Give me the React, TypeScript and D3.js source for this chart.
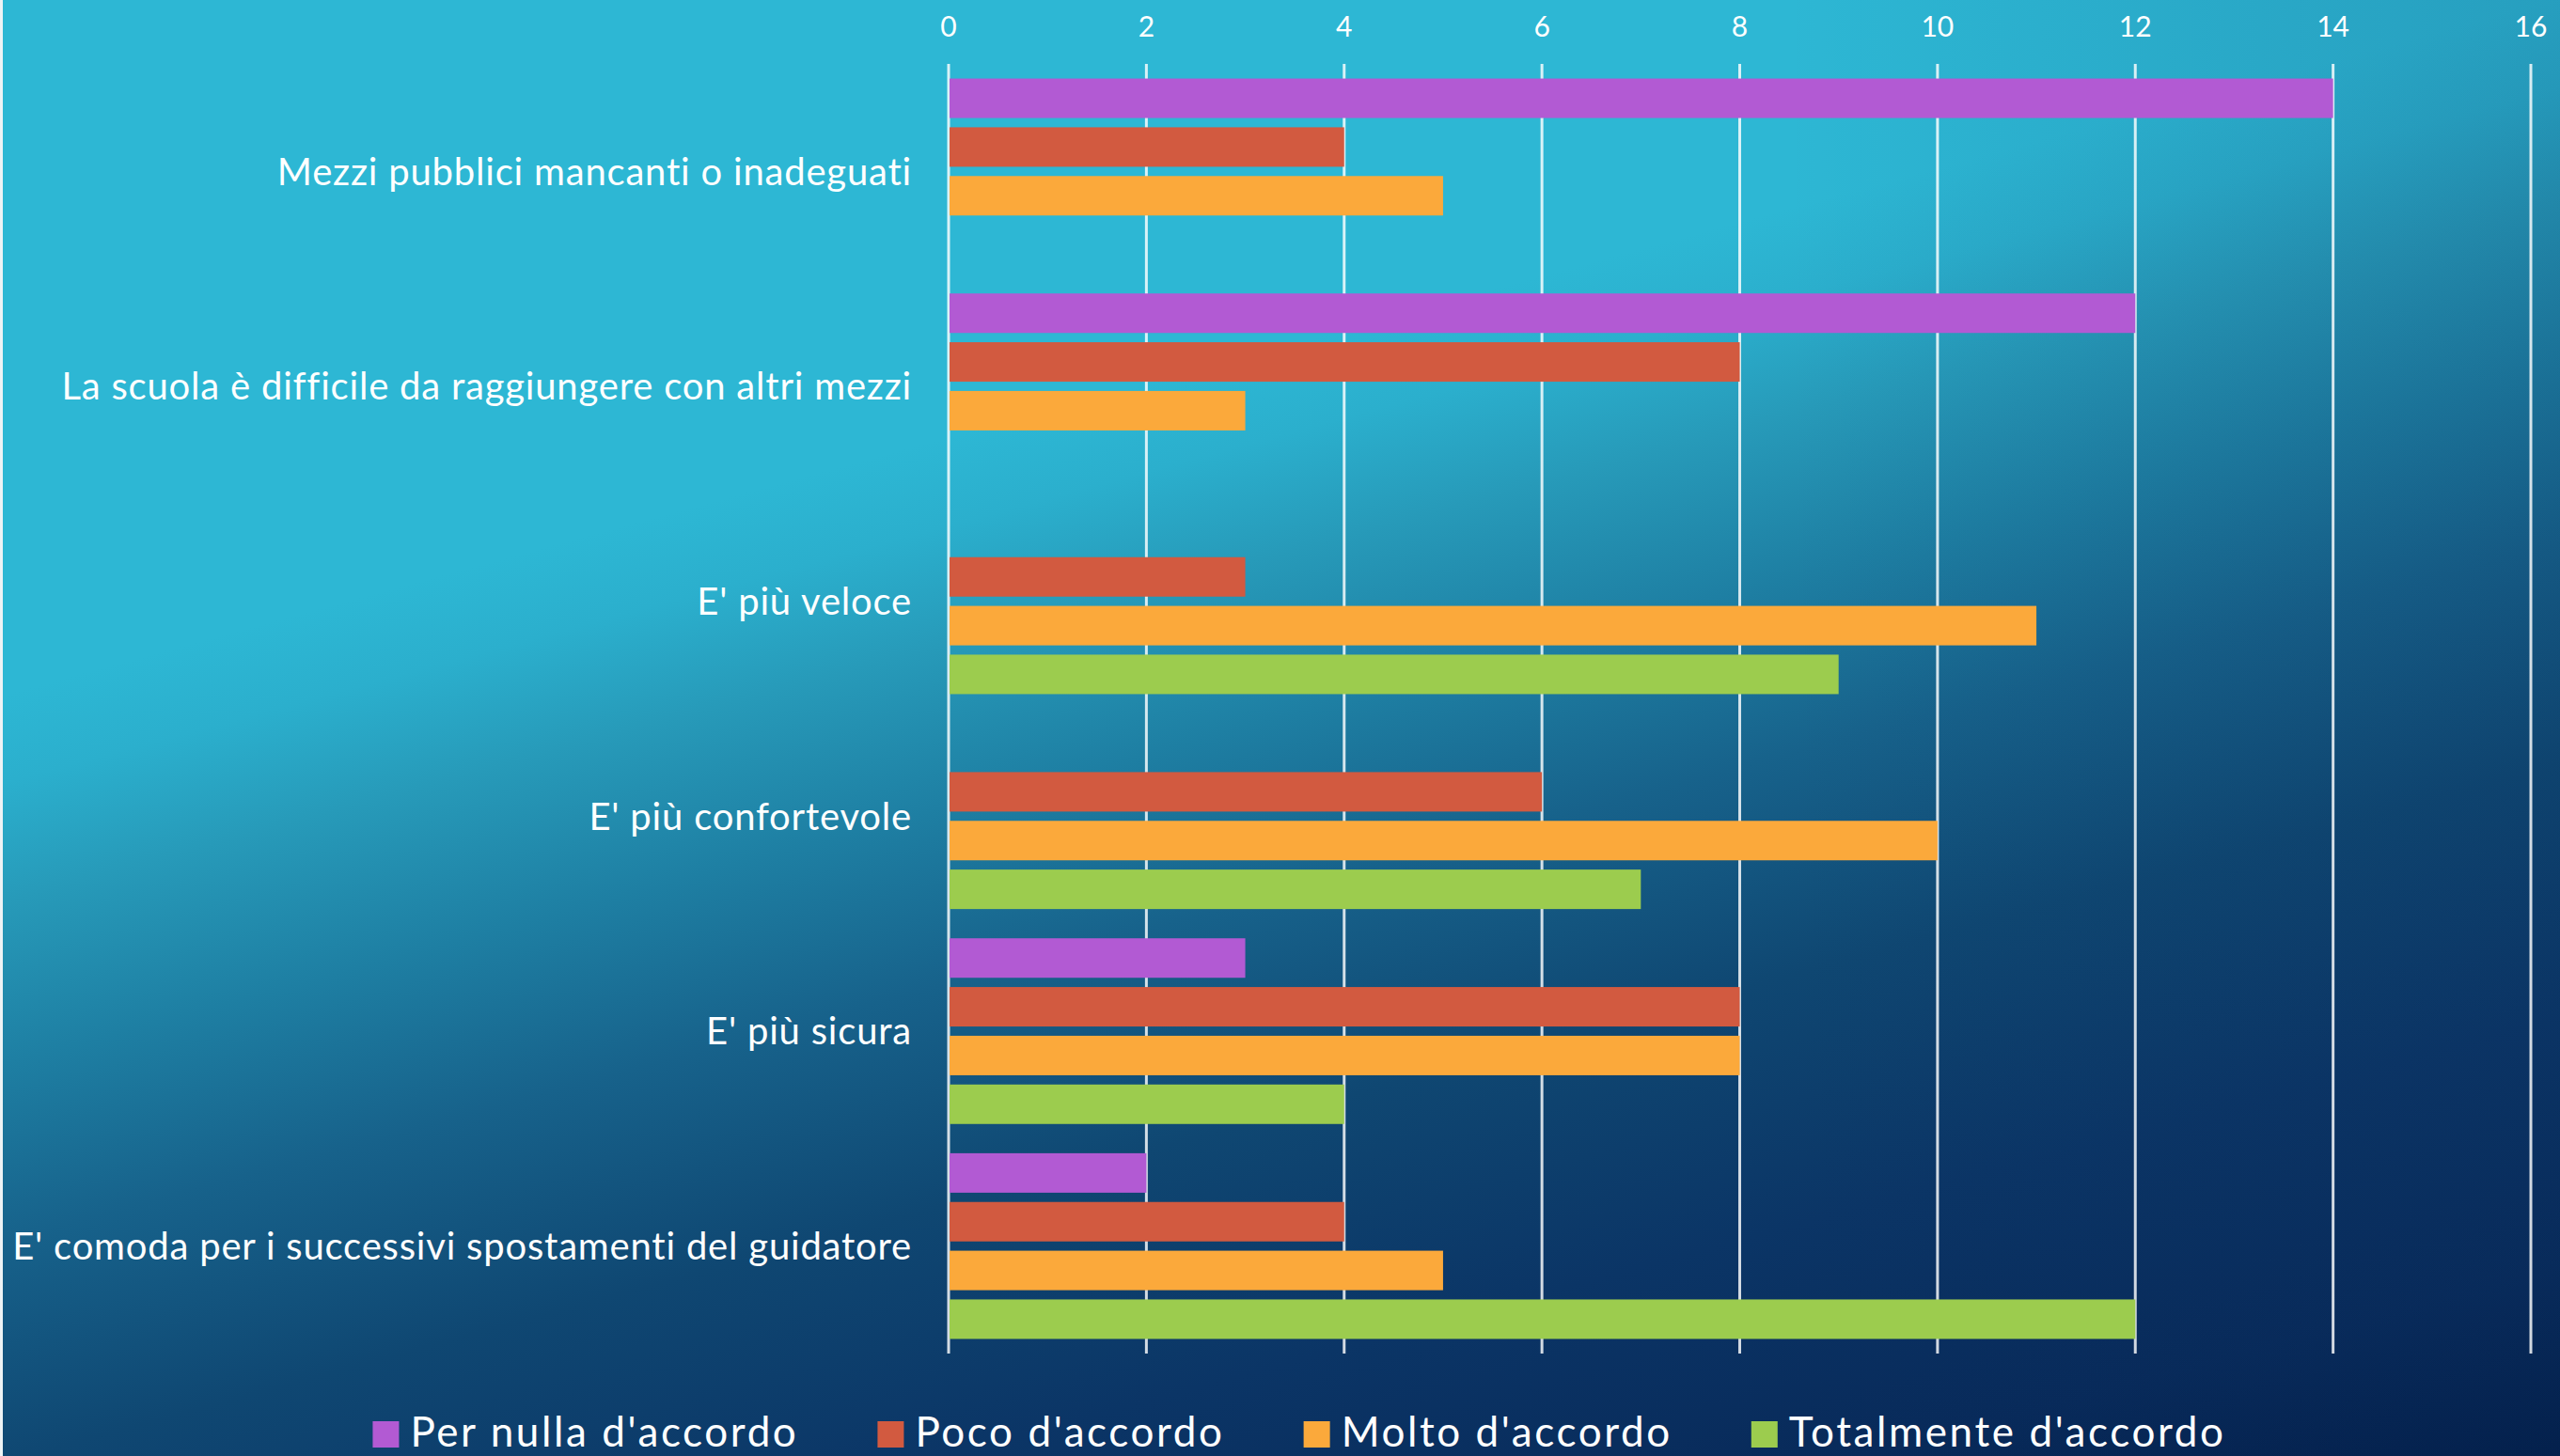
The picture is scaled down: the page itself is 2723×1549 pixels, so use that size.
import React, { useEffect, useRef } from 'react';
import * as d3 from 'd3';

const categories = [
  "Mezzi pubblici mancanti o inadeguati",
  "La scuola è difficile da raggiungere con altri mezzi",
  "E' più veloce",
  "E' più confortevole",
  "E' più sicura",
  "E' comoda per i successivi spostamenti del guidatore",
];
const seriesNames = ["Per nulla d'accordo", "Poco d'accordo", "Molto d'accordo", "Totalmente d'accordo"];
const perNulla = [14, 12, 0, 0, 3, 2];
const poco = [4, 8, 3, 6, 8, 4];
const molto = [5, 3, 11, 10, 8, 5];
const totalmente = [0, 0, 9, 7, 4, 12];
const seriesColors = ["#b25ad3", "#d25a40", "#fba93b", "#9ccc4e"];
const xTicks = [0, 2, 4, 6, 8, 10, 12, 14, 16];

const W = 2723;
const H = 1549;
const FONT = "Lato, 'Open Sans', sans-serif";

export default function App() {
  const ref = useRef<SVGSVGElement>(null);

  useEffect(() => {
    const svg = d3.select(ref.current);
    svg.selectAll('*').remove();

    const defs = svg.append('defs');
    const bg = defs.append('linearGradient')
      .attr('id', 'bg')
      .attr('gradientUnits', 'userSpaceOnUse')
      .attr('x1', 0).attr('y1', 740).attr('x2', 398).attr('y2', 2201);
    const bgStops: [number, string][] = [
      [0, '#2db7d4'],
      [0.06, '#2bafcd'],
      [0.14, '#279ab9'],
      [0.25, '#1e7fa3'],
      [0.37, '#17628b'],
      [0.52, '#0f4772'],
      [0.69, '#0b3566'],
      [0.86, '#082a5a'],
      [1, '#021c47'],
    ];
    bgStops.forEach(([o, c]) => bg.append('stop').attr('offset', o).attr('stop-color', c));

    const shade = defs.append('linearGradient')
      .attr('id', 'shade')
      .attr('gradientUnits', 'userSpaceOnUse')
      .attr('x1', 1900).attr('y1', 0).attr('x2', 2723).attr('y2', 0);
    shade.append('stop').attr('offset', 0).attr('stop-color', '#0a2f5e').attr('stop-opacity', 0);
    shade.append('stop').attr('offset', 1).attr('stop-color', '#0a2f5e').attr('stop-opacity', 0.18);

    svg.append('rect').attr('width', W).attr('height', H).attr('fill', 'url(#bg)');
    svg.append('rect').attr('width', W).attr('height', H).attr('fill', 'url(#shade)');
    svg.append('rect').attr('width', 3).attr('height', H).attr('fill', '#eef3f5');

    const x = d3.scaleLinear().domain([0, 16]).range([1009, 2692]);
    const y = d3.scaleBand<string>().domain(categories).range([68, 1440]).padding(0);
    const ys = d3.scaleBand<string>().domain(seriesNames).range([0, y.bandwidth()])
      .paddingInner(0.19).paddingOuter(0.3);

    // gridlines
    svg.append('g').selectAll('line').data(xTicks).join('line')
      .attr('x1', d => x(d)).attr('x2', d => x(d))
      .attr('y1', 68).attr('y2', 1440)
      .attr('stroke', '#ffffff').attr('stroke-opacity', 0.82).attr('stroke-width', 3);

    // tick labels
    svg.append('g').selectAll('text').data(xTicks).join('text')
      .attr('x', d => x(d)).attr('y', 39)
      .attr('text-anchor', 'middle')
      .attr('font-family', FONT).attr('font-size', 30)
      .attr('fill', '#ffffff')
      .text(d => String(d));

    const seriesValues = [perNulla, poco, molto, totalmente];
    seriesNames.forEach((s, si) => {
      svg.append('g').selectAll('rect').data(categories).join('rect')
        .attr('x', x(0) + 1)
        .attr('y', c => (y(c) as number) + (ys(s) as number))
        .attr('width', (c, i) => Math.max(0, x(seriesValues[si][i]) - x(0) - 1))
        .attr('height', ys.bandwidth())
        .attr('fill', seriesColors[si]);
    });

    // category labels
    svg.append('g').selectAll('text').data(categories).join('text')
      .attr('x', 970)
      .attr('y', c => (y(c) as number) + y.bandwidth() / 2)
      .attr('dy', '0.36em')
      .attr('text-anchor', 'end')
      .attr('font-family', FONT).attr('font-size', 40)
      .attr('letter-spacing', 0.8)
      .attr('fill', '#ffffff')
      .text(c => c);

    // legend
    const lg = svg.append('g');
    const items = seriesNames.map((s, i) => {
      const g = lg.append('g');
      g.append('rect').attr('x', 0).attr('y', 1512).attr('width', 28).attr('height', 28)
        .attr('fill', seriesColors[i]);
      const t = g.append('text').attr('x', 40).attr('y', 1539)
        .attr('font-family', FONT).attr('font-size', 44)
        .attr('letter-spacing', 2.6)
        .attr('fill', '#ffffff').text(s);
      const w = (t.node() as SVGTextElement).getComputedTextLength();
      return { g, w: 40 + w };
    });
    const gap = 84;
    const total = d3.sum(items, d => d.w) + gap * (items.length - 1);
    let cx = 1382 - total / 2;
    items.forEach(it => {
      it.g.attr('transform', `translate(${cx},0)`);
      cx += it.w + gap;
    });
  }, []);

  return (
    <svg
      ref={ref}
      width={W}
      height={H}
      style={{ position: 'absolute', left: 0, top: 0, display: 'block' }}
    />
  );
}
